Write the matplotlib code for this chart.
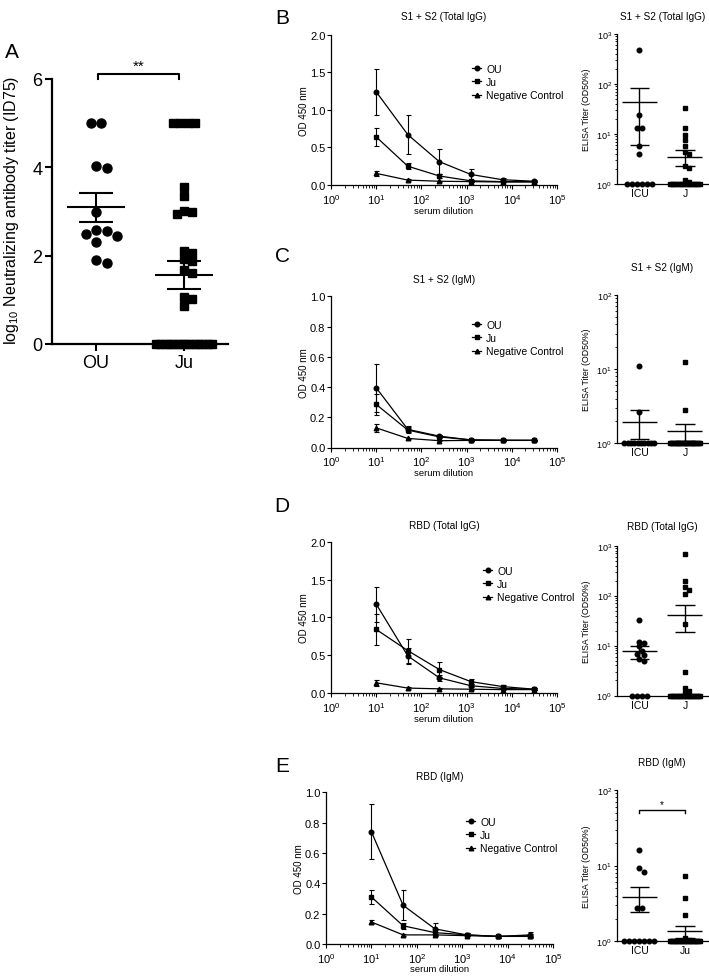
import numpy as np
import matplotlib
matplotlib.use("Agg")
import matplotlib.pyplot as plt
from matplotlib.lines import Line2D
from matplotlib.ticker import LogLocator, LogFormatterMathtext, NullFormatter, FormatStrFormatter

plt.rcParams['font.family'] = ['Liberation Sans', 'DejaVu Sans']
plt.rcParams['mathtext.fontset'] = 'custom'
plt.rcParams['mathtext.rm'] = 'Liberation Sans'
plt.rcParams['mathtext.it'] = 'Liberation Sans:italic'

W, H = 709, 978

# ---------------- data ----------------
# A: neutralizing titers (log10 ID75)
a_groups = ['OU', 'Ju']
a_ou = [5.0, 5.0, 4.03, 3.98, 2.98, 2.57, 2.55, 2.50, 2.44, 2.30, 1.91, 1.83]
a_ju = [5.0, 5.0, 5.0, 5.0, 3.55, 3.35, 3.02, 3.00, 2.94, 2.11, 2.05, 1.92, 1.89,
        1.68, 1.60, 1.07, 1.02, 0.87] + [0.0] * 14

# dilution curves (OD 450 nm, mean and error)
dilution = [10, 50, 250, 1250, 6250, 31250]
series_names = ['OU', 'Ju', 'Negative Control']

b_ou = [1.24, 0.67, 0.31, 0.14, 0.07, 0.05]
b_ou_err = [0.31, 0.26, 0.17, 0.07, 0.02, 0.01]
b_ju = [0.64, 0.25, 0.12, 0.055, 0.045, 0.045]
b_ju_err = [0.12, 0.04, 0.03, 0.01, 0.01, 0.01]
b_neg = [0.155, 0.065, 0.05, 0.045, 0.04, 0.04]
b_neg_err = [0.035, 0.01, 0.005, 0.005, 0.005, 0.005]

c_ou = [0.395, 0.12, 0.075, 0.05, 0.048, 0.047]
c_ou_err = [0.16, 0.02, 0.01, 0.005, 0.005, 0.005]
c_ju = [0.285, 0.115, 0.07, 0.05, 0.047, 0.047]
c_ju_err = [0.07, 0.02, 0.01, 0.005, 0.005, 0.005]
c_neg = [0.13, 0.06, 0.045, 0.047, 0.047, 0.047]
c_neg_err = [0.025, 0.005, 0.005, 0.005, 0.005, 0.005]

d_ou = [1.175, 0.49, 0.20, 0.096, 0.06, 0.05]
d_ou_err = [0.23, 0.11, 0.04, 0.02, 0.01, 0.01]
d_ju = [0.84, 0.56, 0.31, 0.15, 0.085, 0.05]
d_ju_err = [0.21, 0.16, 0.10, 0.03, 0.02, 0.01]
d_neg = [0.135, 0.065, 0.055, 0.05, 0.045, 0.045]
d_neg_err = [0.04, 0.01, 0.005, 0.005, 0.005, 0.005]

e_ou = [0.74, 0.255, 0.10, 0.06, 0.05, 0.06]
e_ou_err = [0.18, 0.10, 0.04, 0.01, 0.01, 0.02]
e_ju = [0.31, 0.12, 0.075, 0.06, 0.05, 0.055]
e_ju_err = [0.045, 0.02, 0.02, 0.01, 0.01, 0.01]
e_neg = [0.145, 0.06, 0.06, 0.055, 0.05, 0.05]
e_neg_err = [0.01, 0.005, 0.005, 0.005, 0.005, 0.005]

# ELISA titers (OD50%)
b_icu = [464, 24, 13, 13, 5.8, 4.0] + [1.0] * 6
b_j = [32.6, 13.2, 9.3, 7.4, 5.8, 4.4, 4.0, 2.3, 2.1, 1.2, 1.1] + [1.0] * 18
c_icu = [10.9, 2.6] + [1.0] * 10
c_j = [12.3, 2.84] + [1.0] * 27
d_icu = [32, 12, 11, 9.7, 7.9, 6.8, 6.5, 5.4, 4.8] + [1.0] * 4
d_j = [680, 200, 149, 132, 110, 26.5, 2.9, 1.4, 1.25, 1.1] + [1.0] * 22
e_icu = [16.2, 9.2, 8.3, 2.75, 2.75] + [1.0] * 7
e_j = [7.4, 3.7, 2.2, 1.1, 1.05] + [1.0] * 25


fig = plt.figure(figsize=(W / 100, H / 100), dpi=100)


def px_axes(l, t, r, b):
    return fig.add_axes([l / W, 1 - b / H, (r - l) / W, (b - t) / H])


def ftext(x, y, s, **kw):
    fig.text(x / W, 1 - y / H, s, **kw)


def clean(ax, lw=1.0):
    for s in ['top', 'right']:
        ax.spines[s].set_visible(False)
    for s in ['left', 'bottom']:
        ax.spines[s].set_linewidth(lw)
        ax.spines[s].set_zorder(1)


def swarm(vals, ppu, log, gap, maxw):
    # spread points sideways so they don't sit on top of each other (pixels)
    v = np.log10(vals) if log else np.asarray(vals, float)
    y = v * ppu
    offs = np.zeros(len(y))
    placed = []
    for u in sorted(set(y), reverse=True):
        idx = np.where(y == u)[0]
        n = len(idx)
        step = min(gap, maxw / (n - 1)) if n > 1 else gap
        base = (np.arange(n) - (n - 1) / 2) * step
        shift = 0.0
        if n < 3:
            for k in range(40):
                c = ((k + 1) // 2) * gap / 2 * (1 if k % 2 else -1)
                ok = all((bx + c - px) ** 2 + (u - py) ** 2 >= (0.9 * gap) ** 2
                         for bx in base for px, py in placed)
                if ok:
                    shift = c
                    break
        for i, bx in zip(idx, base):
            offs[i] = bx + shift
            placed.append((bx + shift, u))
    return offs


def mean_sem(ax, x, vals, wm, ws, lw):
    m = np.mean(vals)
    s = np.std(vals, ddof=1) / np.sqrt(len(vals))
    ax.hlines(m, x - wm, x + wm, color='k', lw=lw, zorder=4, clip_on=False)
    ax.hlines([m - s, m + s], x - ws, x + ws, color='k', lw=lw, zorder=4, clip_on=False)
    ax.vlines(x, m - s, m + s, color='k', lw=lw, zorder=4, clip_on=False)


# ---------------- panel A ----------------
axA = px_axes(52, 80, 228, 345)
clean(axA, 1.6)
axA.set_xlim(0.5, 2.5)
axA.set_ylim(0, 6)
ppx_a = 176 / 2.0
ppu_a = 265 / 6.0
for i, (vals, mk, ms) in enumerate([(a_ou, 'o', 6.5), (a_ju, 's', 5.2)]):
    x0 = i + 1
    off = swarm(vals, ppu_a, False, 10.5 if mk == 'o' else 7.5, 56)
    axA.plot(x0 + off / ppx_a, vals, ls='none', marker=mk, ms=ms, color='k',
             mec='k', clip_on=False, zorder=3)
    mean_sem(axA, x0, vals, 0.33, 0.19, 1.5)
axA.set_xticks([1, 2])
axA.set_xticklabels(a_groups)
axA.set_yticks([0, 2, 4, 6])
axA.tick_params(direction='out', length=5, width=1.5, labelsize=13, pad=2)
axA.plot([1.02, 1.02, 1.94, 1.94], [6.0, 6.11, 6.11, 6.0], color='k', lw=1.5, clip_on=False)
axA.text(1.48, 6.14, '**', ha='center', va='bottom', fontsize=11)
ftext(12, 210, r'log$_{\mathdefault{10}}$ Neutralizing antibody titer (ID75)',
      rotation=90, ha='center', va='center', fontsize=11.5)
ftext(12, 52, 'A', fontsize=15, ha='center', va='center')


# ---------------- dilution curve panels ----------------
def line_panel(rect, ymax, ystep, curves, title, title_y, letter_y, leg_xy, lab_x, lab_y):
    l, t, r, b = rect
    ax = px_axes(l, t, r, b)
    clean(ax, 0.9)
    ax.set_xscale('log')
    ax.set_xlim(1, 1e5)
    ax.set_ylim(0, ymax)
    for (m, e), mk in zip(curves, ['o', 's', '^']):
        ax.errorbar(dilution, m, yerr=e, color='k', marker=mk, ms=3.3, lw=0.9,
                    elinewidth=0.8, capsize=1.8, capthick=0.8, clip_on=False, zorder=3)
    ax.set_yticks(np.arange(0, ymax + 1e-9, ystep))
    ax.yaxis.set_major_formatter(FormatStrFormatter('%.1f'))
    ax.xaxis.set_major_locator(LogLocator(base=10, numticks=10))
    ax.xaxis.set_minor_locator(LogLocator(base=10, subs=np.arange(2, 10), numticks=10))
    ax.xaxis.set_minor_formatter(NullFormatter())
    ax.xaxis.set_major_formatter(LogFormatterMathtext())
    ax.tick_params(which='major', direction='out', length=3, width=0.8, labelsize=8, pad=1)
    ax.tick_params(which='minor', direction='out', length=1.8, width=0.6)
    ax.tick_params(axis='x', which='major', pad=2)
    handles = [Line2D([], [], color='k', marker=mk, ms=3.3, lw=0.9) for mk in ['o', 's', '^']]
    ax.legend(handles, series_names, loc='upper left',
              bbox_to_anchor=(leg_xy[0] / W, 1 - leg_xy[1] / H), bbox_transform=fig.transFigure,
              frameon=False, fontsize=7.5, handlelength=0.9, handletextpad=0.45,
              labelspacing=0.3, borderpad=0, borderaxespad=0)
    cx = (l + r) / 2
    ftext(cx, title_y, title, ha='center', va='center', fontsize=7.2)
    ftext(cx, b + 25, 'serum dilution', ha='center', va='center', fontsize=6.8)
    ftext(lab_x, (t + b) / 2, 'OD 450 nm', rotation=90, ha='center', va='center', fontsize=7)
    ftext(282, letter_y, lab_y, ha='center', va='center', fontsize=15)
    return ax


line_panel((331, 35.7, 557, 186), 2.0, 0.5,
           [(b_ou, b_ou_err), (b_ju, b_ju_err), (b_neg, b_neg_err)],
           'S1 + S2 (Total IgG)', 17, 18, (472, 65), 304, 'B')
line_panel((331, 297.3, 557, 448.5), 1.0, 0.2,
           [(c_ou, c_ou_err), (c_ju, c_ju_err), (c_neg, c_neg_err)],
           'S1 + S2 (IgM)', 280, 257, (472, 321), 304, 'C')
line_panel((331, 542.7, 557, 694), 2.0, 0.5,
           [(d_ou, d_ou_err), (d_ju, d_ju_err), (d_neg, d_neg_err)],
           'RBD (Total IgG)', 526, 507, (483, 567), 304, 'D')
line_panel((326, 793.3, 553, 945), 1.0, 0.2,
           [(e_ou, e_ou_err), (e_ju, e_ju_err), (e_neg, e_neg_err)],
           'RBD (IgM)', 777, 767, (466, 818), 299, 'E')


# ---------------- ELISA titer scatter panels ----------------
def titer_panel(rect, decades, icu, j, cats, title, title_y):
    l, t, r, b = rect
    ax = px_axes(l, t, r, b)
    clean(ax, 0.9)
    ax.set_yscale('log')
    ax.set_ylim(1, 10 ** decades)
    ax.set_xlim(0.5, 2.5)
    ppx = (r - l) / 2.0
    ppu = (b - t) / decades
    for i, (vals, mk, ms) in enumerate([(icu, 'o', 3.3), (j, 's', 3.0)]):
        x0 = i + 1
        off = swarm(vals, ppu, True, 5.0 if mk == 'o' else 4.0, 30)
        ax.plot(x0 + off / ppx, vals, ls='none', marker=mk, ms=ms, color='k',
                clip_on=False, zorder=3)
        mean_sem(ax, x0, vals, 0.385, 0.21, 1.0)
    ax.set_xticks([1, 2])
    ax.set_xticklabels(cats)
    ax.yaxis.set_major_locator(LogLocator(base=10, numticks=10))
    ax.yaxis.set_minor_locator(LogLocator(base=10, subs=np.arange(2, 10), numticks=10))
    ax.yaxis.set_minor_formatter(NullFormatter())
    ax.yaxis.set_major_formatter(LogFormatterMathtext())
    ax.tick_params(axis='y', which='major', direction='out', length=2.5, width=0.8, labelsize=6.5, pad=1)
    ax.tick_params(axis='y', which='minor', direction='out', length=1.5, width=0.6)
    ax.tick_params(axis='x', length=0, labelsize=7.5, pad=3)
    ftext((l + r) / 2, title_y, title, ha='center', va='center', fontsize=7.2)
    ftext(586.7, (t + b) / 2, 'ELISA Titer (OD50%)', rotation=90, ha='center', va='center', fontsize=6.3)
    return ax


titer_panel((616.7, 34.7, 707.7, 185), 3, b_icu, b_j, ['ICU', 'J'], 'S1 + S2 (Total IgG)', 17)
titer_panel((616.7, 295.7, 707.7, 444.3), 2, c_icu, c_j, ['ICU', 'J'], 'S1 + S2 (IgM)', 268)
titer_panel((616.7, 546.7, 707.7, 696.5), 3, d_icu, d_j, ['ICU', 'J'], 'RBD (Total IgG)', 527)
axE2 = titer_panel((616.7, 791, 707.7, 942.3), 2, e_icu, e_j, ['ICU', 'Ju'], 'RBD (IgM)', 763)
axE2.plot([1, 1, 2, 2], [49, 54.7, 54.7, 49], color='k', lw=1.0, clip_on=False)
axE2.text(1.5, 56, '*', ha='center', va='bottom', fontsize=7)

fig.savefig('out.png', dpi=100)
